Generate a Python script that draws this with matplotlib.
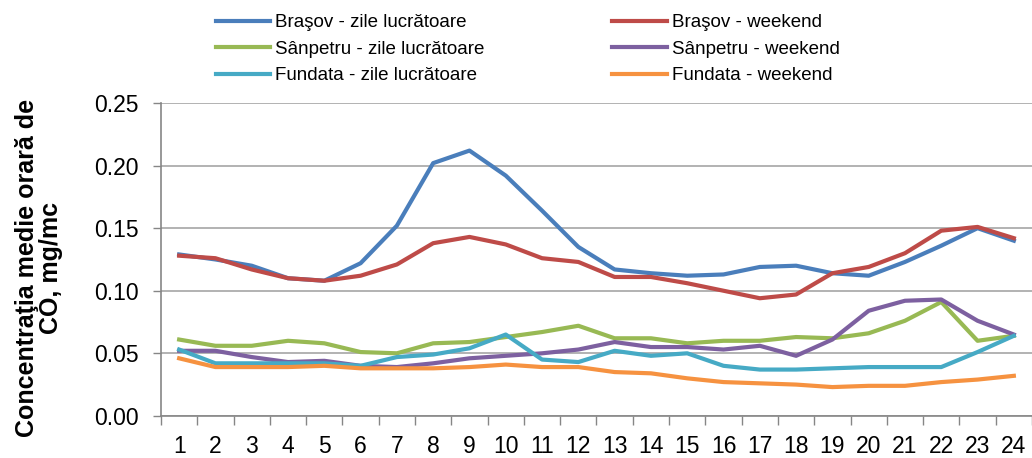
import matplotlib.pyplot as plt
import numpy as np

plt.rcParams['font.family'] = ['Liberation Sans', 'DejaVu Sans']

# ore
ore = list(range(1, 25))

brasov_zl = [0.129, 0.125, 0.120, 0.110, 0.108, 0.122, 0.152, 0.202, 0.212, 0.192, 0.164, 0.135,
             0.117, 0.114, 0.112, 0.113, 0.119, 0.120, 0.114, 0.112, 0.123, 0.136, 0.150, 0.140]
brasov_wk = [0.128, 0.126, 0.117, 0.110, 0.108, 0.112, 0.121, 0.138, 0.143, 0.137, 0.126, 0.123,
             0.111, 0.111, 0.106, 0.100, 0.094, 0.097, 0.114, 0.119, 0.130, 0.148, 0.151, 0.142]
sanpetru_zl = [0.061, 0.056, 0.056, 0.060, 0.058, 0.051, 0.050, 0.058, 0.059, 0.063, 0.067, 0.072,
               0.062, 0.062, 0.058, 0.060, 0.060, 0.063, 0.062, 0.066, 0.076, 0.091, 0.060, 0.064]
sanpetru_wk = [0.052, 0.052, 0.047, 0.043, 0.044, 0.040, 0.039, 0.042, 0.046, 0.048, 0.050, 0.053,
               0.059, 0.055, 0.055, 0.053, 0.056, 0.048, 0.061, 0.084, 0.092, 0.093, 0.076, 0.065]
fundata_zl = [0.053, 0.042, 0.042, 0.042, 0.042, 0.040, 0.047, 0.049, 0.054, 0.065, 0.045, 0.043,
              0.052, 0.048, 0.050, 0.040, 0.037, 0.037, 0.038, 0.039, 0.039, 0.039, 0.051, 0.064]
fundata_wk = [0.046, 0.039, 0.039, 0.039, 0.040, 0.038, 0.038, 0.038, 0.039, 0.041, 0.039, 0.039,
              0.035, 0.034, 0.030, 0.027, 0.026, 0.025, 0.023, 0.024, 0.024, 0.027, 0.029, 0.032]

serii = [
    (brasov_zl, '#4A7EBB', 'Braşov - zile lucrătoare'),
    (brasov_wk, '#BE4B48', 'Braşov - weekend'),
    (sanpetru_zl, '#98B954', 'Sânpetru - zile lucrătoare'),
    (sanpetru_wk, '#7D60A0', 'Sânpetru - weekend'),
    (fundata_zl, '#46AAC5', 'Fundata - zile lucrătoare'),
    (fundata_wk, '#F69240', 'Fundata - weekend'),
]

fig = plt.figure(figsize=(10.32, 4.58), dpi=100)
ax = fig.add_axes([0.156, 0.092, 0.844, 0.683])

linii = []
for vals, col, lab in serii:
    l, = ax.plot(ore, vals, color=col, linewidth=3, label=lab, solid_joinstyle='round')
    linii.append(l)

ax.set_xlim(0.5, 24.5)
ax.set_ylim(0, 0.25)
ax.set_yticks(np.arange(0, 0.26, 0.05))
ax.set_yticklabels([f'{v:.2f}' for v in np.arange(0, 0.26, 0.05)])
ax.set_xticks(ore)
ax.set_xticks(np.arange(0.5, 25, 1), minor=True)
ax.tick_params(axis='x', which='major', length=0, labelsize=16.5, pad=13.5)
ax.tick_params(axis='x', which='minor', length=6.5, color='#868686', width=1)
ax.tick_params(axis='y', length=6, color='#868686', width=1, labelsize=16.5, pad=10)
ax.grid(axis='y', color='#a6a6a6', linewidth=1.2)
ax.set_axisbelow(True)
for s in ['top', 'right']:
    ax.spines[s].set_visible(False)
for s in ['left', 'bottom']:
    ax.spines[s].set_color('#868686')
    ax.spines[s].set_linewidth(1.2)

ax.set_ylabel('Concentraţia medie orară de\nCO, mg/mc', fontsize=18, fontweight='bold',
              linespacing=1.0)
ax.yaxis.set_label_coords(-0.112, 0.474)

ordine = [0, 2, 4, 1, 3, 5]
fig.legend([linii[i] for i in ordine], [serii[i][2] for i in ordine],
           ncol=2, loc='upper left', bbox_to_anchor=(216 / 1032, 1 - 14 / 458), frameon=False,
           borderpad=0, borderaxespad=0,
           fontsize=13.5, handlelength=2.9, handletextpad=0.27, columnspacing=6.8,
           labelspacing=0.5)

fig.savefig('out.png', dpi=100)
